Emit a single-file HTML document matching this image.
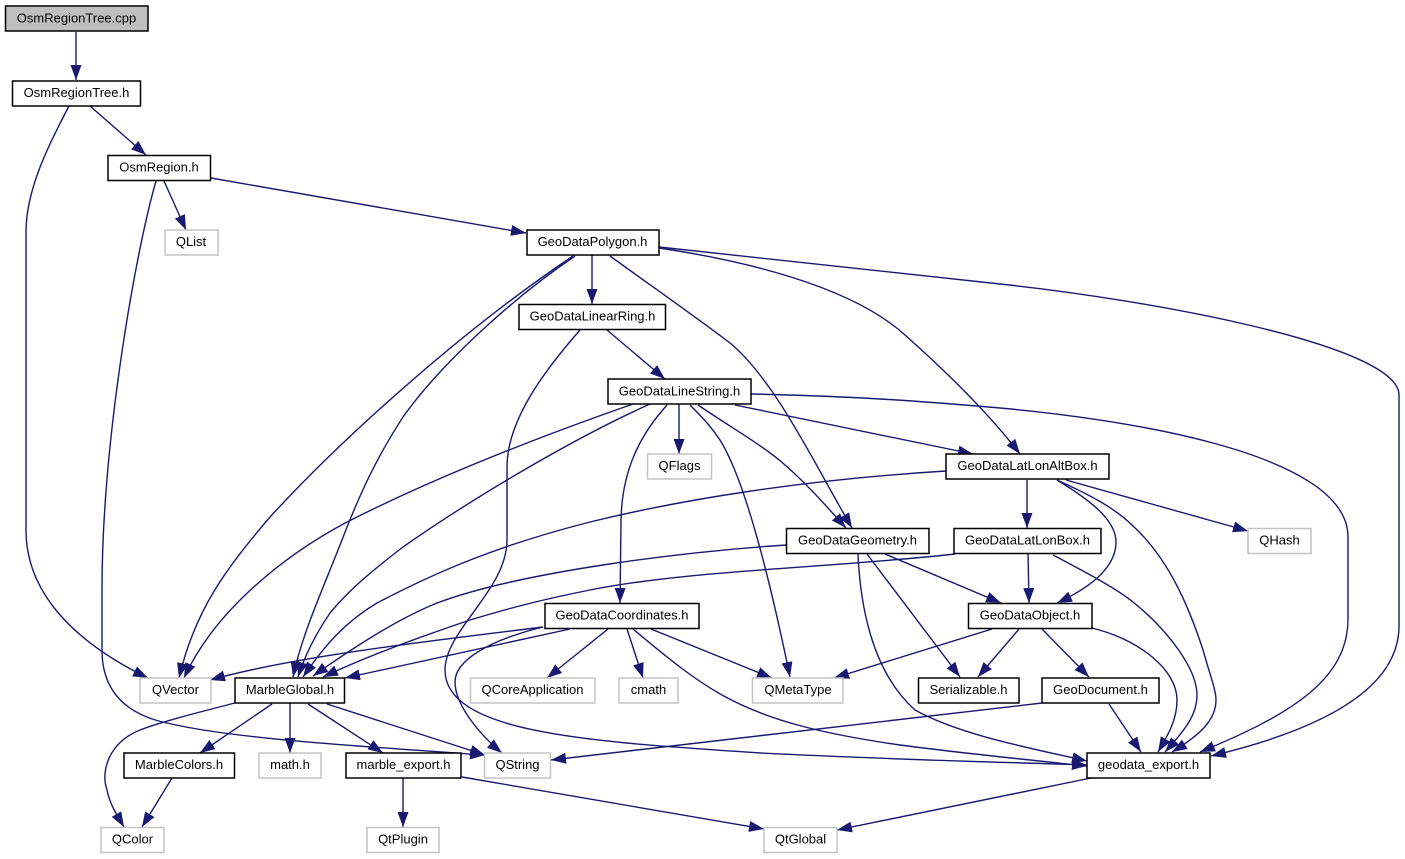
<!DOCTYPE html>
<html><head><meta charset="utf-8"><style>
html,body{margin:0;padding:0;background:#fff;width:1405px;height:859px;overflow:hidden}
svg{display:block}
.e{fill:none;stroke:#191970;stroke-width:1.4;marker-end:url(#a)}
.n{fill:#fff;stroke:#000;stroke-width:1.5}
.g{fill:#fff;stroke:#c4c4c4;stroke-width:1.5}
text{font-family:"Liberation Sans",sans-serif;font-size:13px;text-anchor:middle;fill:#000;transform:translateY(-0.7px)}
</style></head><body>
<svg width="1405" height="859" viewBox="0 0 1405 859" xmlns="http://www.w3.org/2000/svg">
<defs><marker id="a" markerUnits="userSpaceOnUse" markerWidth="17" markerHeight="13" refX="15" refY="5.5" orient="auto"><path d="M0,0 L15,5.5 L0,11 Z" fill="#191970"/></marker></defs>
<path class="e" d="M76,32 L76,80"/>
<path class="e" d="M69,106 C48,146 26,190 26,232 L26,530 C26,590 70,640 148,678"/>
<path class="e" d="M90,106 L146,155"/>
<path class="e" d="M164,181 L186,230"/>
<path class="e" d="M211,178 L526,233"/>
<path class="e" d="M156,181 C136,250 102,440 102,590 L102,650 C102,695 130,715 167,723 C230,738 340,745 485,755"/>
<path class="e" d="M573,256 C470,325 350,430 270,517 C225,570 195,610 179,678"/>
<path class="e" d="M633,404 C530,440 430,480 347,522 C285,555 215,610 184,678"/>
<path class="e" d="M575,256 C510,300 440,365 403,417 C375,460 360,495 347,527 C325,585 303,630 293,677"/>
<path class="e" d="M650,404 C570,440 470,500 403,547 C360,580 345,595 330,613 C315,635 305,655 298,677"/>
<path class="e" d="M946,471 C800,480 680,500 590,522 C500,545 440,570 377,603 C345,622 325,645 303,677"/>
<path class="e" d="M786,545 C680,552 520,572 437,603 C395,620 350,650 313,676"/>
<path class="e" d="M955,554 C830,568 690,570 590,590 C540,600 510,608 470,620 C420,637 370,655 323,677"/>
<path class="e" d="M570,629 L345,678"/>
<path class="e" d="M543,627 C440,640 300,655 210,680"/>
<path class="e" d="M543,627 C490,640 455,660 455,682 C455,705 480,735 502,753"/>
<path class="e" d="M580,330 C545,370 507,420 507,467 L507,540 C507,590 445,630 445,670 C445,735 600,742 760,753 C900,760 1000,762 1087,765"/>
<path class="e" d="M633,629 C670,660 695,680 722,695 C770,722 830,735 900,745 C960,753 1030,760 1087,766"/>
<path class="e" d="M608,629 L547,678"/>
<path class="e" d="M627,629 L643,678"/>
<path class="e" d="M651,629 L772,678"/>
<path class="e" d="M690,405 C705,420 712,428 720,440 C745,480 770,580 790,677"/>
<path class="e" d="M667,405 C640,435 622,470 621,520 L620,603"/>
<path class="e" d="M679,404 L679,454"/>
<path class="e" d="M698,405 C735,430 765,447 785,465 C808,485 828,508 846,528"/>
<path class="e" d="M610,256 C650,285 700,320 730,343 C775,380 815,465 852,528"/>
<path class="e" d="M592,255 L592,304"/>
<path class="e" d="M607,330 L665,379"/>
<path class="e" d="M659,248 C740,260 850,285 905,335 C950,375 990,415 1020,454"/>
<path class="e" d="M659,247 L1000,284 C1150,300 1399,345 1399,395 L1399,626 C1399,690 1320,730 1211,756"/>
<path class="e" d="M751,394 C850,396 920,401 1000,408 C1110,418 1348,450 1348,537 L1348,619 C1348,680 1290,715 1200,752"/>
<path class="e" d="M735,405 L973,454"/>
<path class="e" d="M1027,480 L1027,528"/>
<path class="e" d="M1066,480 L1248,531"/>
<path class="e" d="M1057,480 C1090,500 1116,520 1116,542 C1116,570 1085,590 1057,603"/>
<path class="e" d="M1057,480 C1090,495 1115,508 1133,526 C1170,560 1190,610 1203,650 C1210,675 1216,690 1216,700 C1216,720 1200,735 1172,752"/>
<path class="e" d="M1053,555 C1095,577 1118,590 1133,602 C1170,632 1197,670 1197,695 C1197,715 1185,730 1165,752"/>
<path class="e" d="M1028,553 L1029,603"/>
<path class="e" d="M885,554 L1001,603"/>
<path class="e" d="M867,554 L960,677"/>
<path class="e" d="M858,554 C860,600 870,670 915,710 C960,735 1030,748 1087,761"/>
<path class="e" d="M992,629 L834,678"/>
<path class="e" d="M1019,629 L978,677"/>
<path class="e" d="M1042,629 L1089,677"/>
<path class="e" d="M1092,628 C1140,640 1177,670 1177,700 C1177,720 1168,735 1158,752"/>
<path class="e" d="M1109,704 L1141,752"/>
<path class="e" d="M1042,703 L551,760"/>
<path class="e" d="M235,703 C200,712 160,722 140,730 C110,742 100,770 107,790 C110,805 117,815 124,827"/>
<path class="e" d="M272,704 L200,753"/>
<path class="e" d="M290,703 L290,753"/>
<path class="e" d="M308,704 L383,753"/>
<path class="e" d="M327,704 L485,755"/>
<path class="e" d="M172,778 L142,827"/>
<path class="e" d="M403,778 L403,827"/>
<path class="e" d="M462,777 L764,829"/>
<path class="e" d="M1091,778 L837,830"/>

<rect x="5.5" y="6" width="142.5" height="25" style="fill:#bfbfbf;stroke:#000;stroke-width:1.5"/><text x="76.5" y="23">OsmRegionTree.cpp</text>
<rect class="n" x="12.5" y="81" width="128" height="25"/><text x="76.5" y="97.5">OsmRegionTree.h</text>
<rect class="n" x="108" y="155.5" width="102.5" height="25"/><text x="159" y="172">OsmRegion.h</text>
<rect class="g" x="165" y="230" width="53" height="25"/><text x="191" y="246.5">QList</text>
<rect class="n" x="527" y="230" width="132" height="25"/><text x="592.5" y="246.5">GeoDataPolygon.h</text>
<rect class="n" x="519" y="304.5" width="146.5" height="25"/><text x="592.5" y="321">GeoDataLinearRing.h</text>
<rect class="n" x="608" y="379" width="143" height="25"/><text x="679.5" y="396">GeoDataLineString.h</text>
<rect class="g" x="647.5" y="454" width="64" height="25"/><text x="679.5" y="470.5">QFlags</text>
<rect class="n" x="946" y="454" width="163" height="25"/><text x="1027.5" y="470.5">GeoDataLatLonAltBox.h</text>
<rect class="n" x="786.5" y="528.5" width="142.5" height="25"/><text x="857.5" y="545">GeoDataGeometry.h</text>
<rect class="n" x="954" y="528.5" width="147" height="25"/><text x="1027.5" y="545">GeoDataLatLonBox.h</text>
<rect class="g" x="1248" y="528.5" width="63" height="25"/><text x="1279.5" y="545">QHash</text>
<rect class="n" x="545" y="603.5" width="154" height="25"/><text x="622" y="620">GeoDataCoordinates.h</text>
<rect class="n" x="968.5" y="603.5" width="123.5" height="25"/><text x="1030" y="620">GeoDataObject.h</text>
<rect class="g" x="140" y="678" width="71" height="25"/><text x="175.5" y="694.5">QVector</text>
<rect class="n" x="235" y="678" width="109.5" height="25"/><text x="290" y="694.5">MarbleGlobal.h</text>
<rect class="g" x="470.5" y="678" width="124.5" height="25"/><text x="532.5" y="694.5">QCoreApplication</text>
<rect class="g" x="619" y="678" width="59" height="25"/><text x="648.5" y="694.5">cmath</text>
<rect class="g" x="752.5" y="678" width="90.5" height="25"/><text x="798" y="694.5">QMetaType</text>
<rect class="n" x="918.5" y="678" width="100.5" height="25"/><text x="968.5" y="694.5">Serializable.h</text>
<rect class="n" x="1042" y="678" width="117" height="25"/><text x="1100.5" y="694.5">GeoDocument.h</text>
<rect class="n" x="124" y="753" width="110.5" height="25"/><text x="179" y="769.5">MarbleColors.h</text>
<rect class="g" x="259" y="753" width="62" height="25"/><text x="290" y="769.5">math.h</text>
<rect class="n" x="346" y="753" width="115" height="25"/><text x="403.5" y="769.5">marble_export.h</text>
<rect class="g" x="484.5" y="753" width="66" height="25"/><text x="517.5" y="769.5">QString</text>
<rect class="n" x="1087" y="753" width="123" height="25"/><text x="1148.5" y="769.5">geodata_export.h</text>
<rect class="g" x="101" y="827.5" width="63" height="25"/><text x="132.5" y="844">QColor</text>
<rect class="g" x="367" y="827.5" width="72" height="25"/><text x="403" y="844">QtPlugin</text>
<rect class="g" x="764" y="827.5" width="73" height="25"/><text x="800.5" y="844">QtGlobal</text>
</svg>
</body></html>
